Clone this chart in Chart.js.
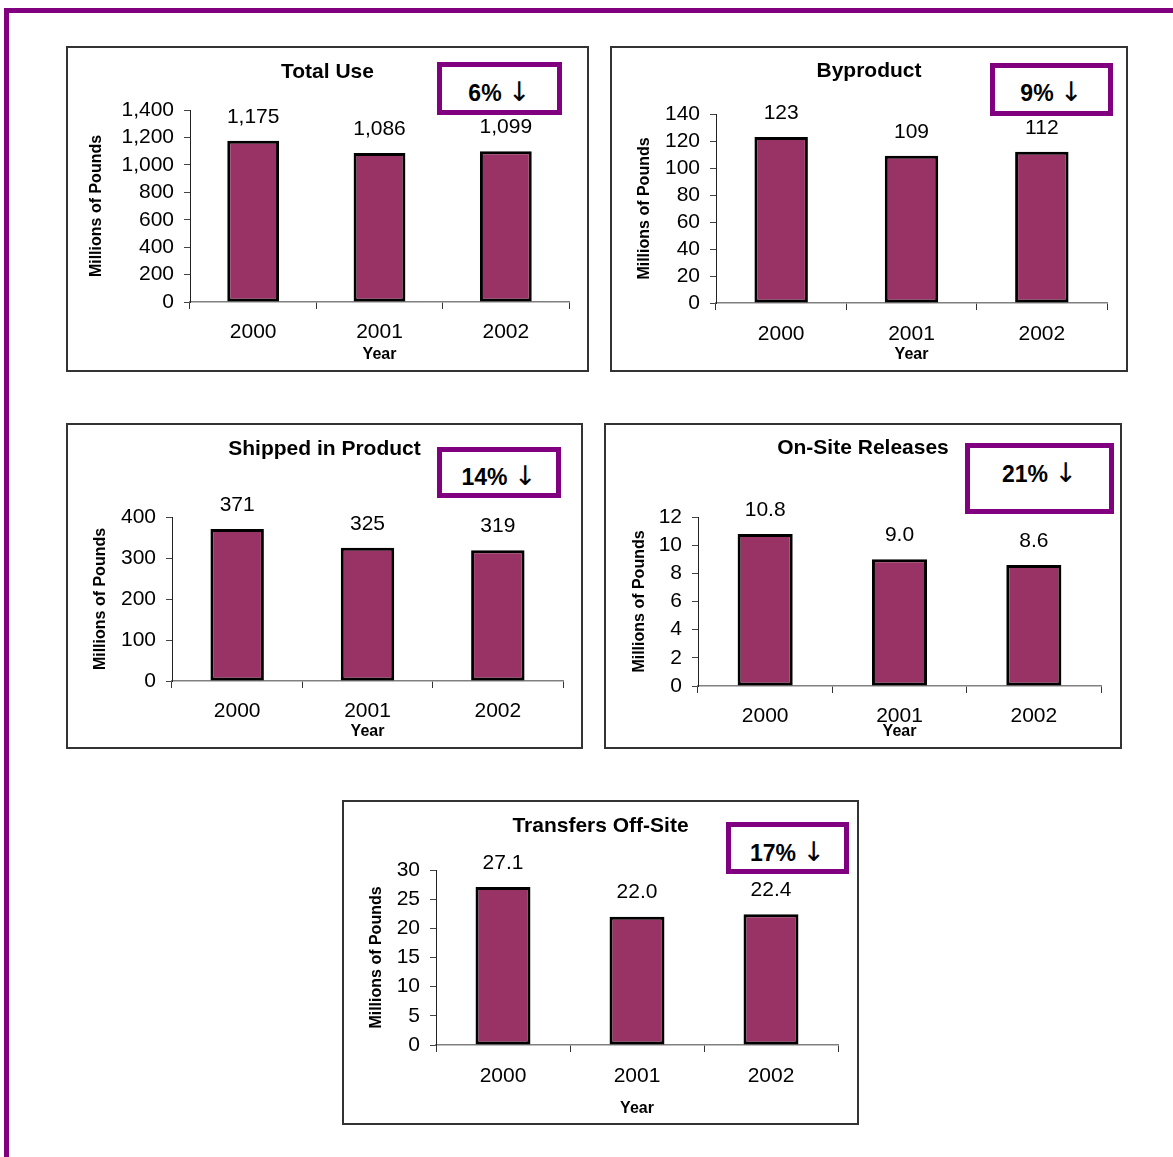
<!DOCTYPE html>
<html>
<head>
<meta charset="utf-8">
<script src="https://cdn.jsdelivr.net/npm/chart.js@4.4.0/dist/chart.umd.min.js"></script>
<style>
  body { margin: 0; background: #fff; width: 1173px; height: 1157px; overflow: hidden; position: relative;
         font-family: "Liberation Sans", Arial, sans-serif; }
  .frame-top { position: absolute; left: 4px; top: 8px; right: 0; height: 5px; background: #800080; }
  .frame-left { position: absolute; left: 4px; top: 8px; width: 5px; bottom: 0; background: #800080; }
  .panel { position: absolute; border: 2px solid #333; box-sizing: border-box; background: #fff; }
  .panel canvas { position: absolute; left: 0; top: 0; }
  .pct { position: absolute; border: 5px solid #800080; box-sizing: border-box; background: #fff; }
  .pct span { position: absolute; left: 0; right: 0; text-align: center; font-weight: bold;
              font-size: 23px; line-height: 26px; color: #000; }
  .pct .arr { position: static; font-family: "DejaVu Sans", sans-serif; font-weight: normal;
              font-size: 27px; line-height: 26px; color: #000; }
</style>
</head>
<body>
<div class="frame-top"></div>
<div class="frame-left"></div>
<script>
const years = ['2000', '2001', '2002'];
const totalUse = [1175, 1086, 1099];
const byproduct = [123, 109, 112];
const shippedInProduct = [371, 325, 319];
const onSiteReleases = [10.8, 9.0, 8.6];
const transfersOffSite = [27.1, 22.0, 22.4];

const titles = ['Total Use', 'Byproduct', 'Shipped in Product', 'On-Site Releases', 'Transfers Off-Site'];
const percentDrops = [6, 9, 14, 21, 17];
const yMax = [1400, 140, 400, 12, 30];
const yStep = [200, 20, 100, 2, 5];
const labelDecimals = [0, 0, 0, 1, 1];

const series = [totalUse, byproduct, shippedInProduct, onSiteReleases, transfersOffSite];

// panel frame, plot area [left, top, right, bottom], text anchors, percent box
const panels = [
  { box: [66, 46, 588, 371],   plot: [190, 110, 569, 302],  titleY: 72,  yTitleX: 97,  tickY: 332,  yearY: 355,  pct: [437, 62, 562, 115],   pctY: 92 },
  { box: [610, 46, 1127, 371], plot: [716, 114, 1107, 303], titleY: 71,  yTitleX: 645, tickY: 334,  yearY: 355,  pct: [990, 63, 1113, 116],  pctY: 92 },
  { box: [66, 423, 582, 748],  plot: [172, 517, 563, 681],  titleY: 449, yTitleX: 101, tickY: 711,  yearY: 732,  pct: [437, 447, 561, 498],  pctY: 476 },
  { box: [604, 423, 1121, 748], plot: [698, 517, 1101, 686], titleY: 448, yTitleX: 640, tickY: 716,  yearY: 732,  pct: [965, 443, 1114, 514], pctY: 473 },
  { box: [342, 800, 858, 1124], plot: [436, 870, 838, 1045], titleY: 826, yTitleX: 377, tickY: 1076, yearY: 1109, pct: [726, 822, 849, 874],  pctY: 852 }
];

const FONT = '"Liberation Sans", Arial, sans-serif';
const BW = 2; // panel border width

// numbers written above each bar
const valueLabels = {
  id: 'valueLabels',
  afterDatasetsDraw(chart, args, opts) {
    const ctx = chart.ctx;
    const data = chart.data.datasets[0].data;
    ctx.save();
    ctx.font = '21px ' + FONT;
    ctx.fillStyle = '#000';
    ctx.textAlign = 'center';
    ctx.textBaseline = 'middle';
    chart.getDatasetMeta(0).data.forEach((bar, j) => {
      const v = data[j];
      const txt = opts.decimals ? v.toFixed(opts.decimals) : v.toLocaleString('en-US');
      ctx.fillText(txt, bar.x, bar.y - 24);
    });
    ctx.restore();
  }
};

panels.forEach((p, i) => {
  const [l, t, r, b] = p.box;
  const div = document.createElement('div');
  div.className = 'panel';
  div.style.left = l + 'px';
  div.style.top = t + 'px';
  div.style.width = (r - l + 1) + 'px';
  div.style.height = (b - t + 1) + 'px';
  document.body.appendChild(div);

  const cl = l + BW, ct = t + BW;
  const cw = r - l + 1 - 2 * BW, ch = b - t + 1 - 2 * BW;
  const canvas = document.createElement('canvas');
  canvas.width = cw; canvas.height = ch;
  canvas.style.width = cw + 'px'; canvas.style.height = ch + 'px';
  div.appendChild(canvas);

  // same padding on both sides keeps the title centred on the panel
  const padSide = cl + cw - p.plot[2];
  const titleTop = p.titleY - ct - 12.6;
  const titleBottom = (p.plot[1] - ct) - titleTop - 25.2;

  new Chart(canvas, {
    type: 'bar',
    data: {
      labels: years,
      datasets: [{
        data: series[i],
        backgroundColor: '#993366',
        borderColor: '#000',
        borderWidth: 3,
        borderSkipped: false,
        barPercentage: 0.41,
        categoryPercentage: 1
      }]
    },
    options: {
      responsive: false,
      animation: false,
      devicePixelRatio: 1,
      layout: { padding: { top: 0, left: padSide, bottom: 0, right: padSide } },
      plugins: {
        legend: { display: false },
        tooltip: { enabled: false },
        title: {
          display: true,
          text: titles[i],
          color: '#000',
          font: { family: FONT, size: 21, weight: 'bold' },
          padding: { top: titleTop, bottom: titleBottom }
        },
        valueLabels: { decimals: labelDecimals[i] }
      },
      scales: {
        x: {
          offset: true,
          grid: { offset: true, drawOnChartArea: false, tickLength: 7, tickColor: '#333', lineWidth: 1 },
          border: { color: '#808080', width: 1.5 },
          ticks: { color: '#000', font: { family: FONT, size: 21 }, padding: p.tickY - p.plot[3] - 7 - 12.6, maxRotation: 0 },
          title: {
            display: true, text: 'Year', color: '#000',
            font: { family: FONT, size: 16, weight: 'bold' },
            padding: { top: 0, bottom: (ct + ch) - p.yearY - 9.6 }
          },
          afterFit(s) { s.height = ct + ch - p.plot[3]; }
        },
        y: {
          min: 0,
          max: yMax[i],
          grid: { drawOnChartArea: false, tickLength: 6, tickColor: '#444', lineWidth: 1 },
          border: { color: '#222', width: 1 },
          ticks: {
            stepSize: yStep[i], autoSkip: false, color: '#000', padding: 10,
            font: { family: FONT, size: 21 },
            callback: v => v.toLocaleString('en-US')
          },
          title: {
            display: true, text: 'Millions of Pounds', color: '#000',
            font: { family: FONT, size: 16, weight: 'bold' },
            padding: { top: p.yTitleX - cl - padSide - 9.6, bottom: 0 }
          },
          afterFit(s) { s.width = p.plot[0] - cl - padSide; }
        }
      }
    },
    plugins: [valueLabels]
  });

  const box = document.createElement('div');
  box.className = 'pct';
  box.style.left = p.pct[0] + 'px';
  box.style.top = p.pct[1] + 'px';
  box.style.width = (p.pct[2] - p.pct[0]) + 'px';
  box.style.height = (p.pct[3] - p.pct[1]) + 'px';
  const span = document.createElement('span');
  span.style.top = (p.pctY - p.pct[1] - 5 - 13) + 'px';
  span.innerHTML = percentDrops[i] + '% <span class="arr">\u2193</span>';
  box.appendChild(span);
  document.body.appendChild(box);
});
</script>
</body>
</html>
